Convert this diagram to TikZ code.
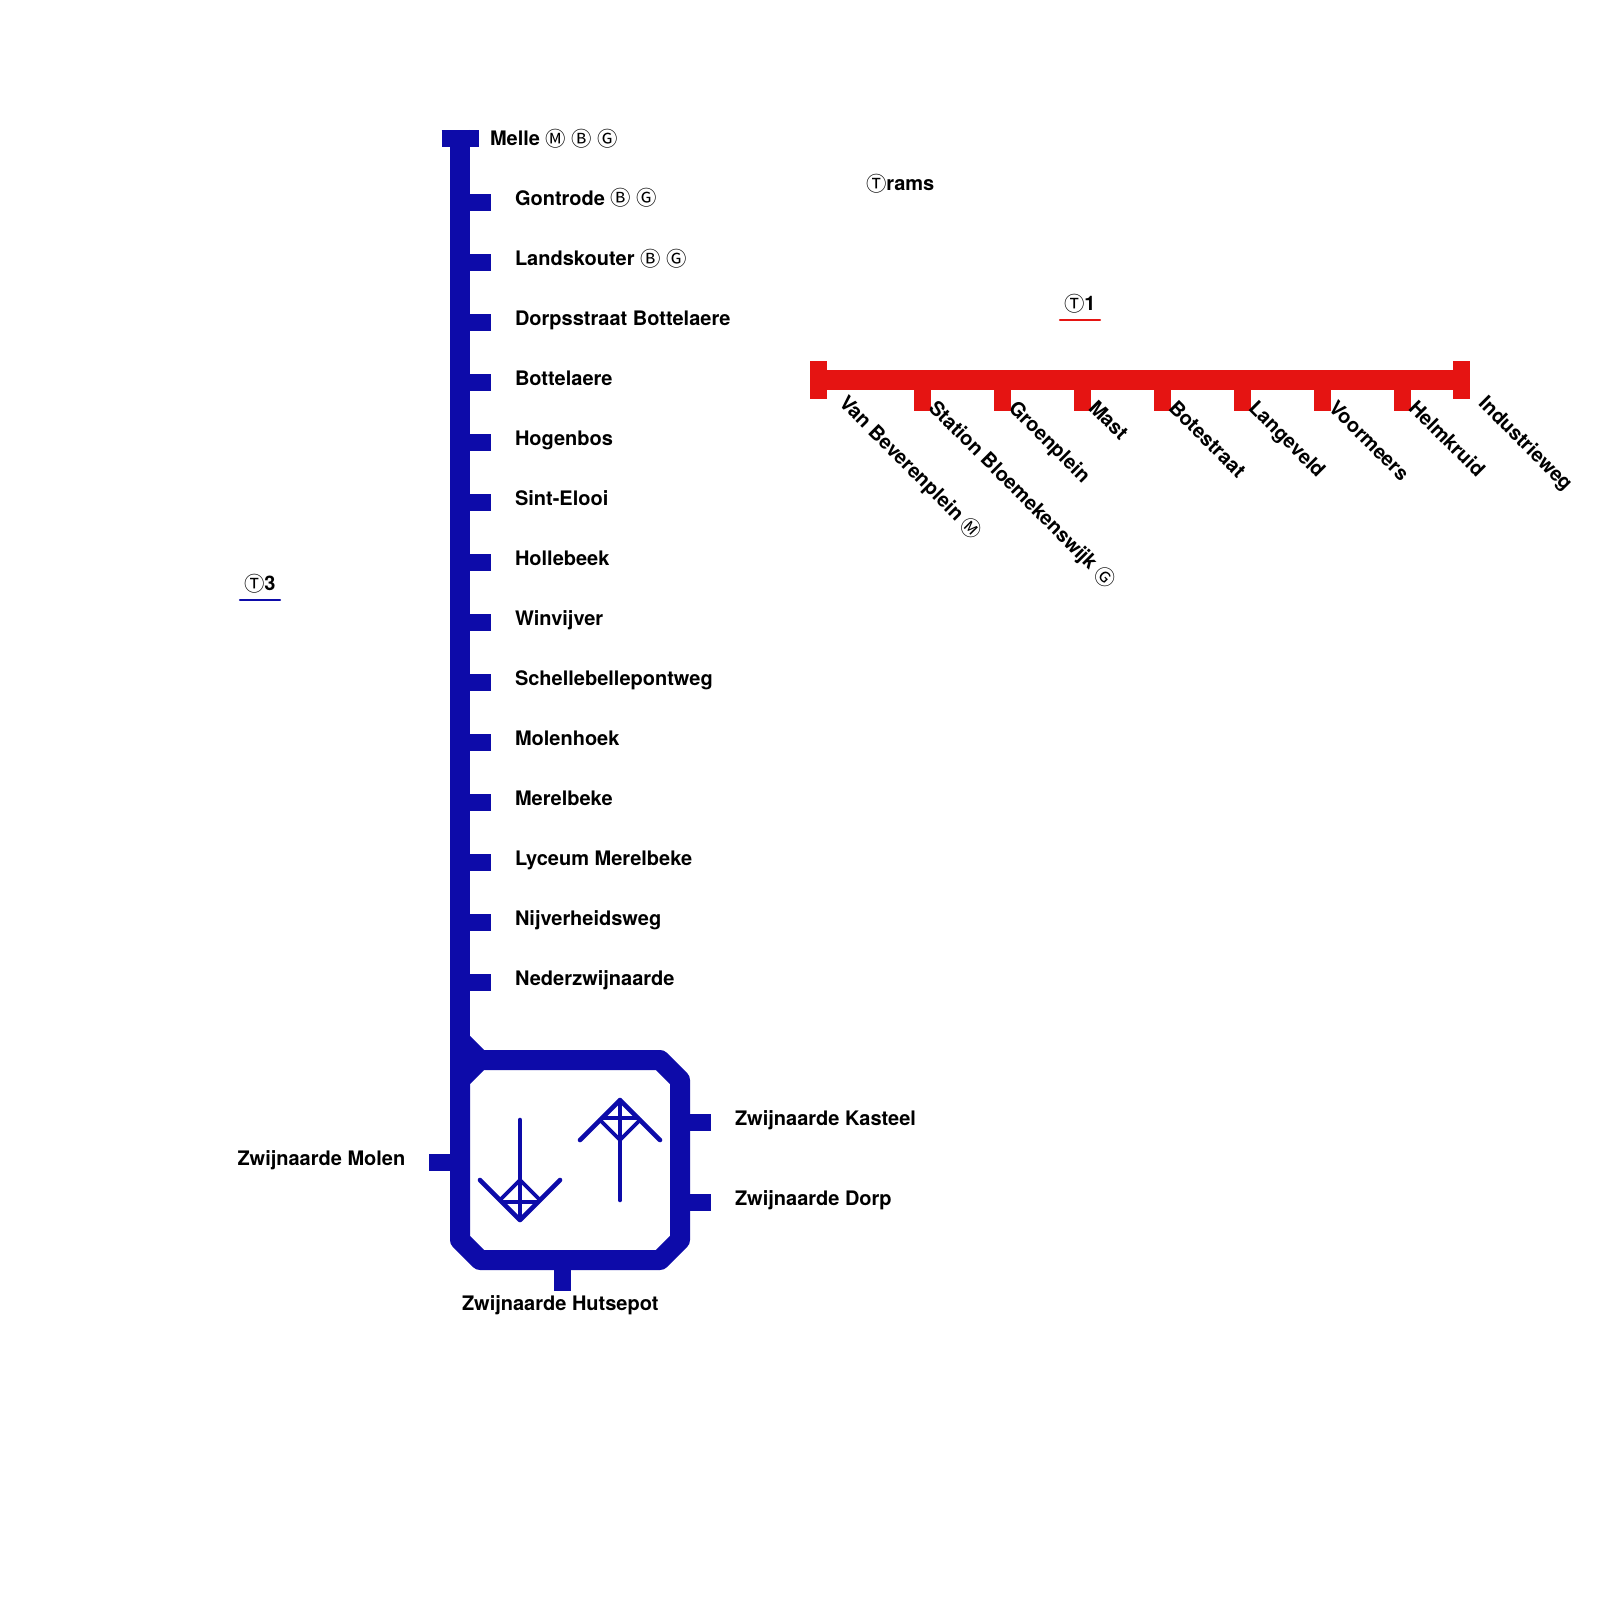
\documentclass[tikz,border=0pt]{standalone}
\usepackage{fontspec}
\setmainfont{TeX Gyre Heros}
\newfontfamily\circfont[Scale=1.02]{Noto Sans CJK JP}
\definecolor{lineblue}{HTML}{0D0BA9}
\definecolor{linered}{HTML}{E51412}
\newcommand{\Cc}[1]{\raisebox{-0.5pt}{\circfont\mdseries #1}}
\tikzset{
  lbl/.style={anchor=base west,inner sep=0pt,outer sep=0pt,font=\fontsize{10}{12}\bfseries\selectfont},
  rlbl/.style={lbl,rotate=-45},
  blueline/.style={draw=lineblue,line width=10pt,line join=round},
  bluetick/.style={draw=lineblue,line width=8.5pt},
  redline/.style={draw=linered,line width=10pt},
  redtick/.style={draw=linered,line width=8.5pt},
  arrowline/.style={draw=lineblue,line width=2.3pt,line cap=round,line join=round},
  arrowfine/.style={draw=lineblue,line width=1.8pt,line cap=round,line join=round},
  keyrule/.style={line width=1.2pt,line cap=round}
}
\begin{document}
\begin{tikzpicture}[x=0.5pt,y=-0.5pt]
\useasboundingbox (0,0) rectangle (1600,1600);
% blue line
\draw[bluetick] (441.5,138.5) -- (478.5,138.5);
\draw[blueline] (460,130) -- (460,1240);
\draw[blueline] (460,1040) -- (480,1060) -- (660,1060) -- (680,1080) -- (680,1240) -- (660,1260) -- (480,1260) -- (460,1240) -- (460,1080) -- (480,1060);
\foreach \yy in {202,262,322,382,442,502,562,622,682,742,802,862,922,982}
  \draw[bluetick] (470,\yy+.4) -- (491,\yy+.4);
\draw[bluetick] (429,1162.5) -- (450,1162.5);
\draw[bluetick] (690,1122.5) -- (711,1122.5);
\draw[bluetick] (690,1202.5) -- (711,1202.5);
\draw[bluetick] (562.5,1270) -- (562.5,1291);
% direction arrows
\draw[arrowline] (520,1120) -- (520,1180);
\draw[arrowline] (480,1180) -- (520,1220) -- (560,1180);
\draw[arrowfine] (500,1200) -- (520,1180) -- (540,1200);
\draw[arrowfine] (520,1180) -- (520,1220);
\draw[arrowfine] (502,1202) -- (538,1202);
\draw[arrowline] (620,1200) -- (620,1140);
\draw[arrowline] (580,1140) -- (620,1100) -- (660,1140);
\draw[arrowfine] (600,1120) -- (620,1140) -- (640,1120);
\draw[arrowfine] (620,1100) -- (620,1140);
\draw[arrowfine] (602,1118) -- (638,1118);
% red line
\draw[redline] (815,380) -- (1465,380);
\draw[redtick] (818.5,361) -- (818.5,398.5);
\draw[redtick] (1461.5,361) -- (1461.5,398.5);
\foreach \xx in {922.5,1002.5,1082.5,1162.5,1242.5,1322.5,1402.5}
  \draw[redtick] (\xx,390) -- (\xx,411);
% key rules
\draw[keyrule,draw=linered] (1060,320) -- (1100,320);
\draw[keyrule,draw=lineblue] (240,600) -- (280,600);
% titles
\node[lbl] (trams) at (866,190.5) {\Cc{Ⓣ}rams};
\node[lbl] (t1) at (1064,310) {\Cc{Ⓣ}1};
\node[lbl] (t3) at (244,590) {\Cc{Ⓣ}3};
% blue labels
\node[lbl] (melle) at (490,145.5) {Melle \Cc{Ⓜ} \Cc{Ⓑ} \Cc{Ⓖ}};
\node[lbl] (s1) at (515,205) {Gontrode \Cc{Ⓑ} \Cc{Ⓖ}};
\node[lbl] (s2) at (515,265) {Landskouter \Cc{Ⓑ} \Cc{Ⓖ}};
\node[lbl] (s3) at (515,325) {Dorpsstraat Bottelaere};
\node[lbl] (s4) at (515,385) {Bottelaere};
\node[lbl] (s5) at (515,445) {Hogenbos};
\node[lbl] (s6) at (515,505) {Sint-Elooi};
\node[lbl] (s7) at (515,565) {Hollebeek};
\node[lbl] (s8) at (515,625) {Winvijver};
\node[lbl] (s9) at (515,685) {Schellebellepontweg};
\node[lbl] (s10) at (515,745) {Molenhoek};
\node[lbl] (s11) at (515,805) {Merelbeke};
\node[lbl] (s12) at (515,865) {Lyceum Merelbeke};
\node[lbl] (s13) at (515,925) {Nijverheidsweg};
\node[lbl] (s14) at (515,985) {Nederzwijnaarde};
\node[lbl] (zm) at (237.5,1165) {Zwijnaarde Molen};
\node[lbl] (zk) at (735,1125) {Zwijnaarde Kasteel};
\node[lbl] (zd) at (735,1205) {Zwijnaarde Dorp};
\node[lbl] (zh) at (462,1310) {Zwijnaarde Hutsepot};
% red labels
\node[rlbl] (r1) at (838,404) {Van Beverenplein \Cc{Ⓜ}};
\node[rlbl] (r2) at (927.5,409) {Station Bloemekenswijk \Cc{Ⓖ}};
\node[rlbl] (r3) at (1007.5,409) {Groenplein};
\node[rlbl] (r4) at (1087.5,409) {Mast};
\node[rlbl] (r5) at (1167.5,409) {Botestraat};
\node[rlbl] (r6) at (1247.5,409) {Langeveld};
\node[rlbl] (r7) at (1327.5,409) {Voormeers};
\node[rlbl] (r8) at (1407.5,409) {Helmkruid};
\node[rlbl] (r9) at (1477.5,404.5) {Industrieweg};
\end{tikzpicture}
\end{document}
